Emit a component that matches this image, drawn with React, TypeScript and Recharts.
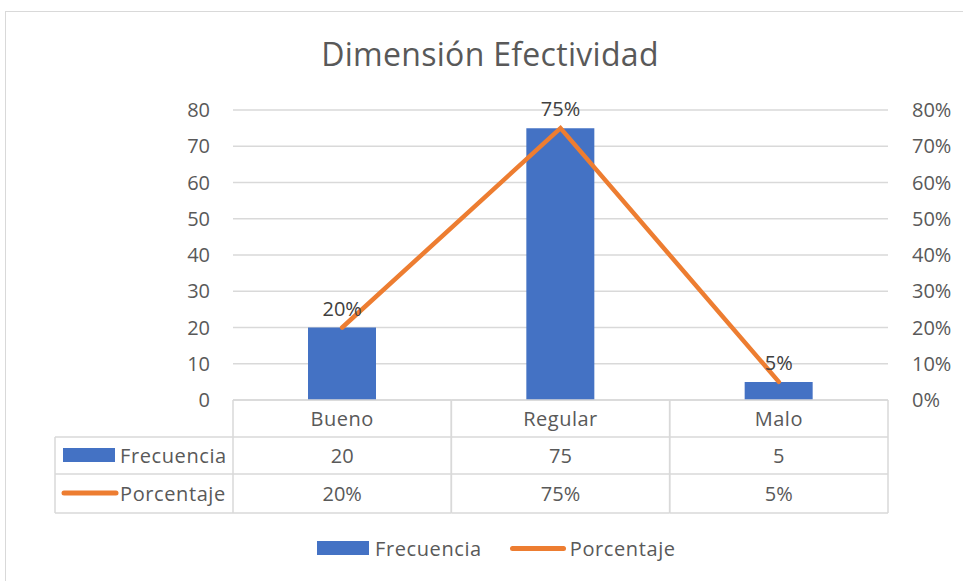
import { ComposedChart, Bar, Line, XAxis, YAxis, CartesianGrid, LabelList } from 'recharts'

const categories = ['Bueno', 'Regular', 'Malo']
const frecuencia = [20, 75, 5]
const porcentaje = [0.2, 0.75, 0.05]
const leftTicks = [0, 10, 20, 30, 40, 50, 60, 70, 80]
const rightTicks = [0, 0.1, 0.2, 0.3, 0.4, 0.5, 0.6, 0.7, 0.8]
const seriesNames = ['Frecuencia', 'Porcentaje']

const BLUE = '#4472C4'
const ORANGE = '#ED7D31'
const TEXT = '#595959'
const GRID = '#d9d9d9'
const FONT = '"Open Sans", sans-serif'

// layout
const W = 963
const H = 581
const PLOT_LEFT = 233
const PLOT_RIGHT = 888
const PLOT_TOP = 110
const PLOT_BOTTOM = 400
const BAND = (PLOT_RIGHT - PLOT_LEFT) / categories.length
const ROWS = [400, 437, 474, 513]
const HEAD_LEFT = 55

const pct = (v: number) => `${Math.round(v * 100)}%`

const data = categories.map((cat, i) => ({
  cat,
  freq: frecuencia[i],
  pct: porcentaje[i],
}))

// x axis tick draws one column of the data table
function TableTick(props: any) {
  const { x, index } = props
  const left = x - BAND / 2
  const right = x + BAND / 2
  const textProps = {
    fill: TEXT,
    fontSize: 20,
    fontFamily: FONT,
    textAnchor: 'middle' as const,
    dominantBaseline: 'central' as const,
  }
  return (
    <g>
      {ROWS.map((ry) => (
        <line key={ry} x1={left} x2={right} y1={ry} y2={ry} stroke={GRID} strokeWidth={1.5} />
      ))}
      <line x1={left} x2={left} y1={ROWS[0]} y2={ROWS[3]} stroke={GRID} strokeWidth={1.5} />
      <line x1={right} x2={right} y1={ROWS[0]} y2={ROWS[3]} stroke={GRID} strokeWidth={1.5} />
      <text x={x} y={(ROWS[0] + ROWS[1]) / 2} {...textProps} letterSpacing={0.5}>{categories[index]}</text>
      <text x={x} y={(ROWS[1] + ROWS[2]) / 2} {...textProps}>{frecuencia[index]}</text>
      <text x={x} y={(ROWS[2] + ROWS[3]) / 2} {...textProps}>{pct(porcentaje[index])}</text>
      {index === 0 && (
        <g>
          {ROWS.slice(1).map((ry) => (
            <line key={ry} x1={HEAD_LEFT} x2={left} y1={ry} y2={ry} stroke={GRID} strokeWidth={1.5} />
          ))}
          <line x1={HEAD_LEFT} x2={HEAD_LEFT} y1={ROWS[1]} y2={ROWS[3]} stroke={GRID} strokeWidth={1.5} />
          <rect x={63} y={448} width={52} height={14} fill={BLUE} />
          <line x1={64} x2={116} y1={493} y2={493} stroke={ORANGE} strokeWidth={5} strokeLinecap="round" />
          <text x={120} y={(ROWS[1] + ROWS[2]) / 2} {...textProps} textAnchor="start" letterSpacing={0.6}>{seriesNames[0]}</text>
          <text x={120} y={(ROWS[2] + ROWS[3]) / 2} {...textProps} textAnchor="start" letterSpacing={0.6}>{seriesNames[1]}</text>
        </g>
      )}
    </g>
  )
}

export default function App() {
  return (
    <div style={{ position: 'absolute', left: 0, top: 0, width: W, height: H, background: '#fff', fontFamily: FONT }}>
      <div
        style={{
          position: 'absolute',
          left: 5,
          top: 11,
          width: W,
          height: H,
          border: `1px solid ${GRID}`,
          boxSizing: 'border-box',
        }}
      />
      <div
        style={{
          position: 'absolute',
          left: 0,
          top: 34,
          width: 980,
          textAlign: 'center',
          fontSize: 32,
          letterSpacing: 0.3,
          color: TEXT,
          lineHeight: '40px',
        }}
      >
        Dimensión Efectividad
      </div>
      <div style={{ position: 'absolute', left: 0, top: 0 }}>
        <ComposedChart
          width={W}
          height={H}
          data={data}
          margin={{ top: PLOT_TOP, right: W - PLOT_RIGHT - 75, bottom: 0, left: PLOT_LEFT - 60 }}
        >
          <CartesianGrid vertical={false} stroke={GRID} strokeWidth={1.5} yAxisId="left" />
          <XAxis
            dataKey="cat"
            height={H - PLOT_BOTTOM}
            axisLine={false}
            tickLine={false}
            interval={0}
            tick={<TableTick />}
          />
          <YAxis
            yAxisId="left"
            width={60}
            domain={[0, 80]}
            ticks={leftTicks}
            axisLine={false}
            tickLine={false}
            tickSize={0}
            tickMargin={23}
            tick={{ fill: TEXT, fontSize: 20, fontFamily: FONT }}
          />
          <YAxis
            yAxisId="right"
            orientation="right"
            width={75}
            domain={[0, 0.8]}
            ticks={rightTicks}
            tickFormatter={pct}
            axisLine={false}
            tickLine={false}
            tickSize={0}
            tickMargin={24}
            tick={{ fill: TEXT, fontSize: 20, fontFamily: FONT, textAnchor: 'start' }}
          />
          <Bar yAxisId="left" dataKey="freq" name={seriesNames[0]} fill={BLUE} barSize={68} isAnimationActive={false} />
          <Line
            yAxisId="right"
            dataKey="pct"
            name={seriesNames[1]}
            type="linear"
            stroke={ORANGE}
            strokeWidth={4.5}
            strokeLinecap="round"
            dot={false}
            activeDot={false}
            isAnimationActive={false}
          >
            <LabelList
              dataKey="pct"
              position="top"
              offset={12}
              formatter={(v: any) => pct(v as number)}
              style={{ fill: '#404040', fontSize: 20, fontFamily: FONT }}
            />
          </Line>
        </ComposedChart>
      </div>
      {/* legend */}
      <div style={{ position: 'absolute', left: 317, top: 536, height: 24, display: 'flex', alignItems: 'center', fontSize: 20, letterSpacing: 0.6, color: TEXT }}>
        <span style={{ display: 'inline-block', width: 52, height: 14, background: BLUE, marginRight: 6 }} />
        <span>{seriesNames[0]}</span>
        <span style={{ display: 'inline-block', width: 56, height: 5, borderRadius: 3, background: ORANGE, marginLeft: 28, marginRight: 4 }} />
        <span>{seriesNames[1]}</span>
      </div>
    </div>
  )
}
